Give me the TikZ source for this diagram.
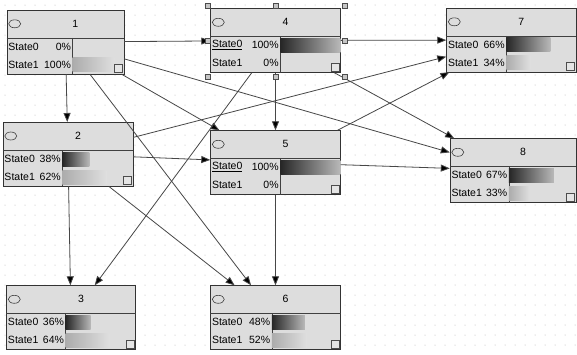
\documentclass[tikz,border=0pt]{standalone}
\usepackage{fontspec}
\setmainfont{Liberation Sans}
\usetikzlibrary{arrows.meta}
\usetikzlibrary{positioning}

\tikzset{
  netbox/.style={rectangle,draw=black!80,fill=gray!27,inner sep=0pt,minimum height=64pt},
  boxline/.style={draw=black!75,line width=0.6pt},
  bnlink/.style={draw=black!72,line width=0.8pt,arrows = -{Triangle[length=9pt,width=7pt,fill=black]}},
  handlebox/.style={rectangle,draw=black!70,fill=gray!45,inner sep=0pt,minimum size=5pt},
  checkbox/.style={rectangle,draw=black!70,fill=white!80!gray,inner sep=0pt,minimum size=8pt},
  txt/.style={inner sep=1pt,font=\fontsize{10.5}{12}\selectfont}
}

\begin{document}
\begin{tikzpicture}[x=1pt,y=-1pt]

            \useasboundingbox (0,0) rectangle (577,354);
            \fill[white] (0,0) rectangle (577,354);

            % grid of the editor
            \foreach \gx in {5,15,...,575}
              \foreach \gy in {5,15,...,354}
                \fill[gray!60] (\gx,\gy) circle (0.5pt);

            \path   (65.4,42) node (n1) [netbox,minimum width=117pt] {}
                    (275.5,40.5) node (n4) [netbox,minimum width=130pt] {}
                    (511.25,40) node (n7) [netbox,minimum width=129.5pt] {}

                    (68,154.2) node (n2) [netbox,minimum width=130pt] {}
                    (275.5,162.5) node (n5) [netbox,minimum width=130pt] {}
                    (513,170.5) node (n8) [netbox,minimum width=126pt] {}

                    (71,317.5) node (n3) [netbox,minimum width=129pt] {}
                    (275.5,317.5) node (n6) [netbox,minimum width=130pt] {};

            % header, states and bars of every box
            \foreach \nd/\ttl/\dv/\lza/\pza/\pzb/\bza/\bzb in {
                n1/1/66/State0/0/100/0/42,
                n4/4/70/\underline{State0}/100/0/60/0,
                n7/7/60/State0/66/34/44/24,
                n2/2/59.6/State0/38/62/27/44,
                n5/5/70/\underline{State0}/100/0/60/0,
                n8/8/59/State0/67/33/45/21,
                n3/3/59.4/State0/36/64/25/44,
                n6/6/61.5/State0/48/52/33/35}
            {
              \draw[boxline] ([yshift=-28pt]\nd.north west) -- ([yshift=-28pt]\nd.north east);
              \draw[boxline] ([xshift=\dv pt,yshift=-28pt]\nd.north west) -- ([xshift=\dv pt]\nd.south west);
              \draw[boxline] ([xshift=8pt,yshift=-14pt]\nd.north west) ellipse (6pt and 4pt);
              \node[txt] (\nd-title) at ([xshift=10pt,yshift=-14pt]\nd.north) {\ttl};
              \ifnum\bza>0
                \shade[left color=black!85,right color=gray!55]
                  ([xshift=\dv pt,yshift=-30pt]\nd.north west) rectangle ++(\bza,14);
              \fi
              \ifnum\bzb>0
                \shade[left color=gray!65,right color=gray!25]
                  ([xshift=\dv pt,yshift=-48pt]\nd.north west) rectangle ++(\bzb,14);
              \fi
              \node[txt,anchor=west] (\nd-sa) at ([xshift=0.5pt,yshift=-37pt]\nd.north west) {\lza};
              \node[txt,anchor=east] (\nd-pa) at ([xshift=\dv-0.5,yshift=-37pt]\nd.north west) {\pza\%};
              \node[txt,anchor=west] (\nd-sb) at ([xshift=0.5pt,yshift=-55pt]\nd.north west) {State1};
              \node[txt,anchor=east] (\nd-pb) at ([xshift=\dv-0.5,yshift=-55pt]\nd.north west) {\pzb\%};
              \node[checkbox] (\nd-ck) at ([xshift=-6pt,yshift=6pt]\nd.south east) {};
            }

            \draw[bnlink] (node cs: name=n1) -- (node cs: name=n2);
            \draw[bnlink] (node cs: name=n1) -- (node cs: name=n4);
            \draw[bnlink] (node cs: name=n1) -- (node cs: name=n5);
            \draw[bnlink] (node cs: name=n1) -- (node cs: name=n6);
            \draw[bnlink] (node cs: name=n1) -- (node cs: name=n8);

            \draw[bnlink] (node cs: name=n2) -- (node cs: name=n3);
            \draw[bnlink] (node cs: name=n2) -- (node cs: name=n5);
            \draw[bnlink] (node cs: name=n2) -- (node cs: name=n6);
            \draw[bnlink] (node cs: name=n2) -- (node cs: name=n7);

            \draw[bnlink] (node cs: name=n4) -- (node cs: name=n3);
            \draw[bnlink] (node cs: name=n4) -- (node cs: name=n5);
            \draw[bnlink] (node cs: name=n4) -- (node cs: name=n7);
            \draw[bnlink] (node cs: name=n4) -- (node cs: name=n8);

            \draw[bnlink] (node cs: name=n5) -- (node cs: name=n6);
            \draw[bnlink] (node cs: name=n5) -- (node cs: name=n7);
            \draw[bnlink] (node cs: name=n5) -- (node cs: name=n8);

            % node 4 is selected
            \foreach \hp/\hx/\hy in {north west/-3/3, north/0/3, north east/4/3,
                                     west/-3/0, east/4/0,
                                     south west/-3/-4, south/0/-4, south east/4/-4}
              \node[handlebox] (h-\hp) at ([xshift=\hx pt,yshift=\hy pt]n4.\hp) {};

        \end{tikzpicture}
\end{document}
